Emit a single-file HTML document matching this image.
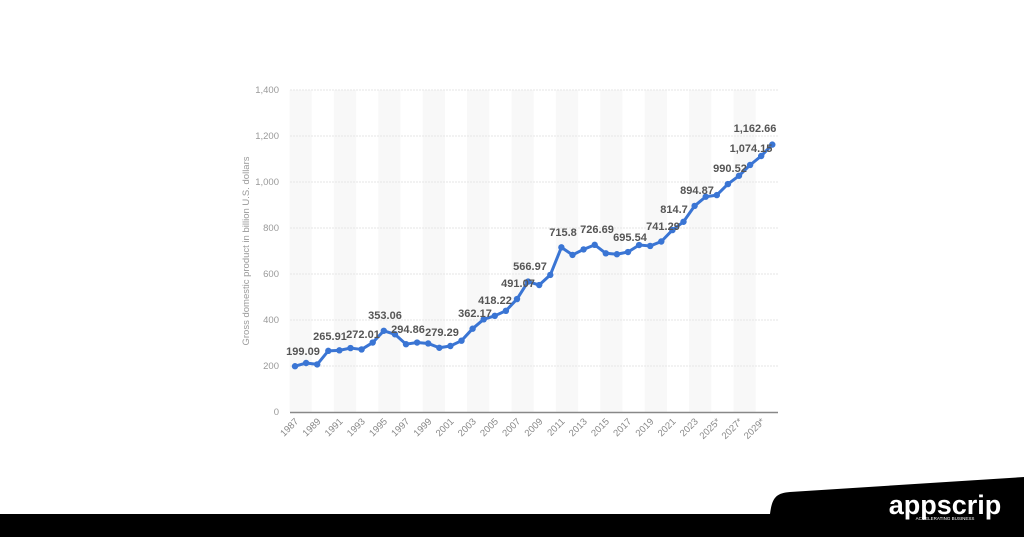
<!DOCTYPE html>
<html><head><meta charset="utf-8"><style>
html,body{margin:0;padding:0;background:#fff;width:1024px;height:537px;overflow:hidden}
</style></head><body>
<svg width="1024" height="537" xmlns="http://www.w3.org/2000/svg" font-family="Liberation Sans, sans-serif">
<g id="bands"></g>
<g id="grid"></g>
<line x1="290" y1="412.5" x2="778" y2="412.5" stroke="#888" stroke-width="1.5"/>
<text transform="translate(249,251) rotate(-90)" text-anchor="middle" font-size="9.5" fill="#999">Gross domestic product in billion U.S. dollars</text>
<g id="xl" font-size="9.5" fill="#888"></g>
<polyline id="ln" fill="none" stroke="#3a75d4" stroke-width="3" stroke-linejoin="round"/>
<g id="pts" fill="#3a75d4"></g>
<g font-size="11" font-weight="bold" fill="#555" text-anchor="middle">
<text x="303" y="355">199.09</text><text x="330" y="340">265.91</text><text x="363" y="338">272.01</text>
<text x="385" y="319">353.06</text><text x="408" y="333">294.86</text><text x="442" y="336">279.29</text>
<text x="475" y="317">362.17</text><text x="495" y="304">418.22</text><text x="518" y="287">491.07</text>
<text x="530" y="270">566.97</text><text x="563" y="236">715.8</text><text x="597" y="233">726.69</text>
<text x="630" y="241">695.54</text><text x="663" y="230">741.29</text><text x="674" y="213">814.7</text>
<text x="697" y="194">894.87</text><text x="730" y="172">990.52</text><text x="751" y="152">1,074.15</text>
<text x="755" y="132">1,162.66</text>
</g>
<path d="M0,514 L770,514 C772,498 776,493 790,492 L1024,477 L1024,537 L0,537 Z" fill="#000"/>
<text x="945" y="514" text-anchor="middle" font-size="27" font-weight="bold" fill="#fff">appscrip</text>
<text x="945" y="520" text-anchor="middle" font-size="4.5" fill="#fff">ACCELERATING BUSINESS</text>
</svg>
<script>
var v=[199.09,213,207,265.91,268,278,272.01,302,353.06,338,294.86,302,298,279.29,287,310,362.17,403,418.22,440,491.07,566.97,552,596,715.8,683,707,726.69,690,686,695.54,726,722,741.29,791,827,896,936,943,991,1027,1074,1113,1162.66];
var ns="http://www.w3.org/2000/svg";
function X(i){return 295+11.1*i}function Y(d){return 412-d*0.23}
function el(t,a,p){var e=document.createElementNS(ns,t);for(var k in a)e.setAttribute(k,a[k]);document.getElementById(p).appendChild(e);return e}
for(var i=0;i<44;i+=4)el('rect',{x:X(i)-5.5,y:90,width:22.2,height:322,fill:'#f8f8f8'},'bands');
for(var g=0;g<=1400;g+=200){if(g>0)el('line',{x1:290,x2:778,y1:Y(g),y2:Y(g),stroke:'#e6e6e6','stroke-dasharray':'2,1'},'grid');
var t=el('text',{x:279,y:Y(g)+3,'text-anchor':'end','font-size':9.5,fill:'#999'},'grid');t.textContent=g.toLocaleString('en-US');}
var pts=[];for(i=0;i<44;i++){pts.push(X(i)+','+Y(v[i]));el('circle',{cx:X(i),cy:Y(v[i]),r:3.2},'pts');}
document.getElementById('ln').setAttribute('points',pts.join(' '));
for(i=0;i<44;i+=2){var yr=1987+i;var s=yr+(yr>=2025?'*':'');var tx=el('text',{transform:'translate('+(X(i)+4)+',422) rotate(-45)','text-anchor':'end'},'xl');tx.textContent=s;}
</script>
</body></html>
